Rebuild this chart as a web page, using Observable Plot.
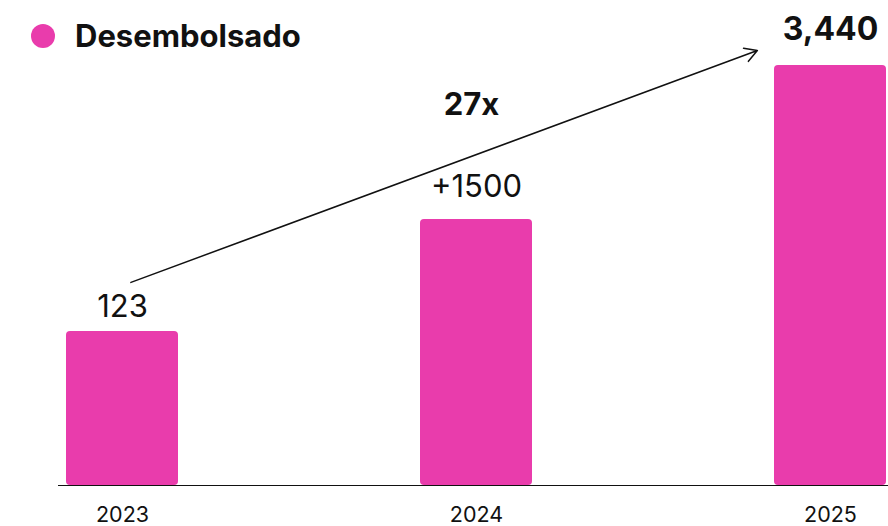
<!DOCTYPE html>
<html><head><meta charset="utf-8">
<script src="https://cdn.jsdelivr.net/npm/d3@7"></script>
<script src="https://cdn.jsdelivr.net/npm/@observablehq/plot@0.6"></script>
<style>
body{margin:0;background:#fff;font-family:Inter, sans-serif;}
#wrap{position:relative;width:888px;height:526px;}
#wrap svg{display:block;}
.legend{position:absolute;left:31px;top:17px;display:flex;align-items:center;gap:20px;font:700 31px Inter, sans-serif;color:#111;}
.legend .sw{width:24px;height:24px;border-radius:50%;background:#E93CAC;display:inline-block;}
</style></head><body>
<div id="wrap"></div>
<script>
// Data
const years = ["2023", "2024", "2025"];
const barHeights = [154, 266, 420];          // schematic bar heights
const valueLabels = ["123", "+1500", "3,440"];
const labelBold = [false, false, true];
const seriesName = "Desembolsado";
const growthLabel = "27x";
const arrowFrom = {year: "2023", level: 200};
const arrowTo = {year: "2025", level: 462};
const growthAt = {year: "2024", level: 380};

const barColor = "#E93CAC";
const rows = years.map((y, i) => ({year: y, h: barHeights[i], label: valueLabels[i], bold: labelBold[i]}));
const labelDy = {"2023": -24, "2024": -32, "2025": -36};

const labelMarks = rows.map(r => Plot.text([r], {
  x: "year", y: "h", text: "label",
  dy: labelDy[r.year], lineAnchor: "middle",
  fontSize: r.bold ? 32 : 31, fontWeight: r.bold ? 700 : 400, fill: "#111"
}));

const chart = Plot.plot({
  width: 888, height: 526,
  marginLeft: 66, marginRight: 2, marginTop: 65, marginBottom: 41,
  style: {fontFamily: "Inter, sans-serif", background: "#fff", overflow: "visible"},
  x: {type: "band", domain: years, paddingInner: 0.685, paddingOuter: 0, label: null},
  y: {domain: [0, 420], axis: null},
  marks: [
    Plot.barY(rows, {x: "year", y: "h", fill: barColor, rx: 4}),
    Plot.ruleY([0], {stroke: "#111", strokeWidth: 1.2, insetLeft: -8, insetRight: -2}),
    Plot.axisX({tickSize: 0, tickPadding: 21, fontSize: 21.5, fill: "#111", label: null}),
    Plot.arrow([{x1: arrowFrom.year, y1: arrowFrom.level, x2: arrowTo.year, y2: arrowTo.level}], {
      x1: "x1", y1: "y1", x2: "x2", y2: "y2",
      insetStart: 9, insetEnd: 78, stroke: "#111", strokeWidth: 1.5, headLength: 14, bend: false
    }),
    Plot.text([growthAt], {x: "year", y: "level", text: () => growthLabel, dx: -5, fontSize: 31, fontWeight: 700, fill: "#111", lineAnchor: "middle"}),
    ...labelMarks
  ]
});

const wrap = document.getElementById("wrap");
wrap.appendChild(chart);
const legend = document.createElement("div");
legend.className = "legend";
legend.innerHTML = `<span class="sw"></span><span>${seriesName}</span>`;
wrap.appendChild(legend);
</script>
</body></html>
